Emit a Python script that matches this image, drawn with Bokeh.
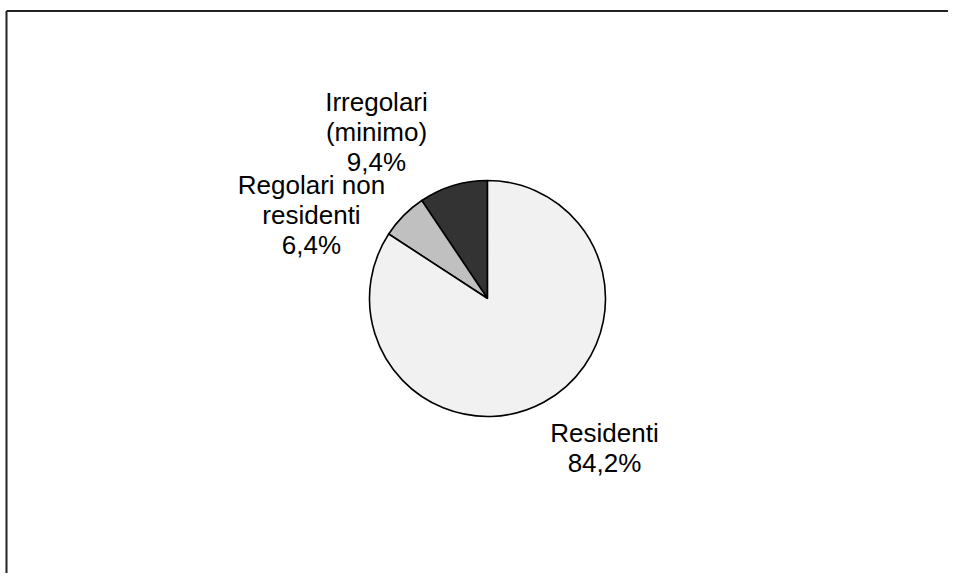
from math import pi
from bokeh.plotting import figure
from bokeh.models import Range1d, ColumnDataSource
from bokeh.core.properties import value
from bokeh.embed import file_html
from bokeh.resources import INLINE

# Data (clockwise from 12 o'clock as drawn: Residenti, Regolari non residenti, Irregolari)
categories = ["Irregolari (minimo)", "Regolari non residenti", "Residenti"]
label_lines = [["Irregolari", "(minimo)"], ["Regolari non", "residenti"], ["Residenti"]]
shares = [9.4, 6.4, 84.2]
colors = ["#333333", "#c0c0c0", "#f1f1f1"]

W, H = 948, 573
p = figure(width=W, height=H, output_backend="svg", toolbar_location=None,
           x_range=Range1d(0, W), y_range=Range1d(0, H),
           min_border=0, outline_line_color=None)
p.axis.visible = False
p.grid.visible = False
p.background_fill_color = "white"
p.border_fill_color = "white"

def Y(img_y):
    return H - img_y

# frame (partially visible box)
p.line([6, W], [Y(10.5), Y(10.5)], line_color="#222222", line_width=2)
p.line([6, 6], [Y(10.5), 0], line_color="#222222", line_width=2)

# pie geometry
cx, cy, r = 487, Y(298), 118
total = sum(shares)
starts, ends = [], []
a = pi / 2
for s in shares:
    starts.append(a)
    a += 2 * pi * s / total
    ends.append(a)
src = ColumnDataSource(dict(start=starts, end=ends, color=colors, cat=categories))
p.wedge(x=cx, y=cy, radius=r, start_angle="start", end_angle="end",
        fill_color="color", line_color="black", line_width=1.6, source=src)

# labels
label_pos = [(376, 101), (311, 184), (604, 432)]
line_gap = 30
xs, ys, texts = [], [], []
for lines, s, (lx, ly) in zip(label_lines, shares, label_pos):
    pct = f"{s:.1f}".replace(".", ",") + "%"
    for i, t in enumerate(lines + [pct]):
        xs.append(lx)
        ys.append(Y(ly + i * line_gap))
        texts.append(t)
p.text(x=xs, y=ys, text=texts, text_font=value("Liberation Sans"),
       text_font_size="26px", text_align="center", text_baseline="middle",
       text_color="black")

open("out.html", "w").write(file_html(p, INLINE))
